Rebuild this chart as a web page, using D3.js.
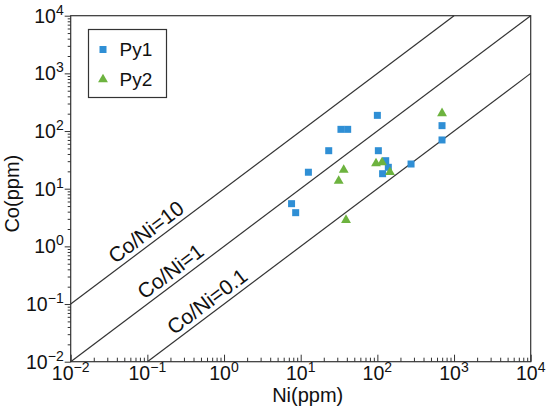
<!DOCTYPE html>
<html>
<head>
<meta charset="utf-8">
<script src="https://cdn.jsdelivr.net/npm/d3@7"></script>
<style>
  body { margin: 0; background: #fff; }
  text { font-family: Arial, "Liberation Sans", sans-serif; fill: #111; }
</style>
</head>
<body>
<div id="chart"></div>
<script>
// Py1 pyrite (blue squares)
const py1Ni = [100, 33.5, 41, 697, 697, 23.2, 103, 128.5, 139, 117, 275, 12.6, 7.6, 8.6];
const py1Co = [187, 107, 107, 124, 70, 45.6, 45.6, 30.6, 23.5, 18.2, 26.8, 19.3, 5.5, 3.84];
// Py2 pyrite (green triangles)
const py2Ni = [697, 36.4, 31.3, 96, 115, 146, 39];
const py2Co = [203, 21.1, 13.6, 27.5, 28.5, 19.3, 2.86];

// reference lines Co/Ni and where their labels sit (Ni value)
const ratios = [10, 1, 0.1];
const ratioLabels = ["Co/Ni=10", "Co/Ni=1", "Co/Ni=0.1"];
const labelAt = [0.12, 0.25, 0.75];

const exponents = [-2, -1, 0, 1, 2, 3, 4];
const seriesNames = ["Py1", "Py2"];
const colors = ["#2f8fd5", "#6db33f"];

const W = 550, H = 407;
const margin = {top: 15.7, right: 19.3, bottom: 45.3, left: 70.7};
const width = W - margin.left - margin.right;
const height = H - margin.top - margin.bottom;

const svg = d3.select("#chart").append("svg")
    .attr("width", W)
    .attr("height", H);

const g = svg.append("g")
    .attr("transform", "translate(" + margin.left + "," + margin.top + ")");

const x = d3.scaleLog().domain([1e-2, 1e4]).range([0, width]);
const y = d3.scaleLog().domain([1e-2, 1e4]).range([height, 0]);

const majors = exponents.map(e => Math.pow(10, e));
const minors = [];
exponents.slice(0, -1).forEach(e => {
    for (let k = 2; k <= 9; k++) minors.push(k * Math.pow(10, e));
});

// frame
g.append("rect")
    .attr("width", width)
    .attr("height", height)
    .attr("fill", "none")
    .attr("stroke", "#333")
    .attr("stroke-width", 1.2);

// x axis: ticks pointing inward
g.append("g")
    .attr("transform", "translate(0," + height + ")")
    .call(d3.axisBottom(x).tickValues(minors).tickSize(-4).tickFormat(""))
    .call(a => a.select(".domain").remove());
g.append("g")
    .attr("transform", "translate(0," + height + ")")
    .call(d3.axisBottom(x).tickValues(majors).tickSize(-7).tickFormat(""))
    .call(a => a.select(".domain").remove());

// y axis: ticks pointing outward
g.append("g")
    .call(d3.axisLeft(y).tickValues(minors).tickSize(3).tickFormat(""))
    .call(a => a.select(".domain").remove());
g.append("g")
    .call(d3.axisLeft(y).tickValues(majors).tickSize(6).tickFormat(""))
    .call(a => a.select(".domain").remove());

g.selectAll(".tick line").attr("stroke", "#333").attr("stroke-width", 1);

// power-of-ten tick labels
function powLabel(sel, e) {
    sel.append("tspan").text("10");
    sel.append("tspan")
        .attr("dy", -8)
        .attr("font-size", 14)
        .text(e < 0 ? "\u2212" + (-e) : e);
}

g.selectAll(".xlab").data(exponents).join("text")
    .attr("class", "xlab")
    .attr("x", e => x(Math.pow(10, e)))
    .attr("y", height + 18)
    .attr("text-anchor", "middle")
    .attr("font-size", 19.5)
    .each(function(e) { powLabel(d3.select(this), e); });

g.selectAll(".ylab").data(exponents).join("text")
    .attr("class", "ylab")
    .attr("x", -7)
    .attr("y", e => y(Math.pow(10, e)) + 7)
    .attr("text-anchor", "end")
    .attr("font-size", 19.5)
    .each(function(e) { powLabel(d3.select(this), e); });

// axis titles
g.append("text")
    .attr("x", width / 2 + 7)
    .attr("y", height + 40)
    .attr("text-anchor", "middle")
    .attr("font-size", 20)
    .text("Ni(ppm)");

g.append("text")
    .attr("transform", "translate(" + (-52) + "," + (height / 2 + 5) + ") rotate(-90)")
    .attr("text-anchor", "middle")
    .attr("font-size", 20)
    .text("Co(ppm)");

// Co/Ni reference lines
const line = d3.line().x(d => x(d[0])).y(d => y(d[1]));
const angle = -Math.atan2(y(1) - y(10), x(10) - x(1)) * 180 / Math.PI;

ratios.forEach((r, i) => {
    const x0 = Math.max(1e-2, 1e-2 / r);
    const x1 = Math.min(1e4, 1e4 / r);
    g.append("path")
        .datum([[x0, x0 * r], [x1, x1 * r]])
        .attr("d", line)
        .attr("fill", "none")
        .attr("stroke", "#333")
        .attr("stroke-width", 1.2);

    const lx = labelAt[i];
    g.append("text")
        .attr("transform", "translate(" + x(lx) + "," + y(lx * r) + ") rotate(" + angle + ")")
        .attr("y", -5)
        .attr("text-anchor", "middle")
        .attr("font-size", 21)
        .text(ratioLabels[i]);
});

// points
const sq = 7;
g.selectAll(".py1").data(py1Ni).join("rect")
    .attr("class", "py1")
    .attr("x", (d, i) => x(d) - sq / 2)
    .attr("y", (d, i) => y(py1Co[i]) - sq / 2)
    .attr("width", sq)
    .attr("height", sq)
    .attr("fill", colors[0]);

const tri = d3.symbol().type(d3.symbolTriangle).size(42);
g.selectAll(".py2").data(py2Ni).join("path")
    .attr("class", "py2")
    .attr("transform", (d, i) => "translate(" + x(d) + "," + y(py2Co[i]) + ")")
    .attr("d", tri)
    .attr("fill", colors[1]);

// legend
const leg = svg.append("g").attr("transform", "translate(88.5,29.5)");
leg.append("rect")
    .attr("width", 78)
    .attr("height", 68)
    .attr("fill", "#fff")
    .attr("stroke", "#333")
    .attr("stroke-width", 1.2);

seriesNames.forEach((name, i) => {
    const cy = 20 + i * 30;
    if (i === 0) {
        leg.append("rect")
            .attr("x", 14.5 - 3.5).attr("y", cy - 3.5)
            .attr("width", 7).attr("height", 7)
            .attr("fill", colors[0]);
    } else {
        leg.append("path")
            .attr("transform", "translate(14.5," + cy + ")")
            .attr("d", tri)
            .attr("fill", colors[1]);
    }
    leg.append("text")
        .attr("x", 31)
        .attr("y", cy + 6.5)
        .attr("font-size", 19)
        .text(name);
});
</script>
</body>
</html>
